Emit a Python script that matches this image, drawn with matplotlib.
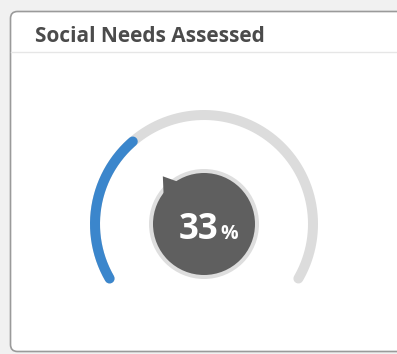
import matplotlib
matplotlib.use("Agg")
import matplotlib.pyplot as plt
import numpy as np
from matplotlib.patches import FancyBboxPatch, Circle, Polygon

# gauge data
title = "Social Needs Assessed"
value = 33          # percent
max_value = 100
start_deg = 210     # gauge sweeps clockwise from lower left
end_deg = -30

W, H = 397, 354
fig = plt.figure(figsize=(W / 100, H / 100), dpi=100)
fig.patch.set_facecolor("#f1f1f1")
ax = fig.add_axes([0, 0, 1, 1])
ax.set_xlim(0, W)
ax.set_ylim(0, H)
ax.axis("off")

# card
card = FancyBboxPatch((10.5, 2.5), 420, 340, boxstyle="round,pad=0,rounding_size=7",
                      facecolor="white", edgecolor="#9a9a9a", linewidth=1.2, zorder=1)
ax.add_patch(card)
ax.plot([11, W], [H - 52, H - 52], color="#e6e6e6", linewidth=1.0, zorder=2)
ax.text(35, H - 42, title, fontsize=15, fontweight="bold", family="Open Sans",
        color="#4b4b4b", va="baseline", ha="left", zorder=3)

# gauge arcs
cx, cy, r = 204, H - 224, 109
lw = 10 * 0.72


def arc(a0, a1, color, z):
    t = np.radians(np.linspace(a0, a1, 200))
    ax.plot(cx + r * np.cos(t), cy + r * np.sin(t), color=color, linewidth=lw,
            solid_capstyle="round", zorder=z)


val_deg = start_deg + (end_deg - start_deg) * value / max_value
arc(start_deg, end_deg, "#dcdcdc", 3)
arc(start_deg, val_deg, "#3b86cc", 4)

# centre bubble with pointer
ccx, ccy = 204, H - 224
ax.add_patch(Circle((ccx, ccy), 55, facecolor="#dedede", edgecolor="none", zorder=5))
ax.add_patch(Circle((ccx, ccy), 51, facecolor="#5f5f5f", edgecolor="none", zorder=6))
a = np.radians(val_deg)
tip = (ccx + 63 * np.cos(a), ccy + 63 * np.sin(a))
b1 = np.radians(val_deg - 14)
b2 = np.radians(val_deg + 22)
ax.add_patch(Polygon([tip,
                      (ccx + 45 * np.cos(b1), ccy + 45 * np.sin(b1)),
                      (ccx + 45 * np.cos(b2), ccy + 45 * np.sin(b2))],
                     closed=True, facecolor="#5f5f5f", edgecolor="none", zorder=6))

ax.text(ccx + 14, H - 239, f"{value}", fontsize=25, fontweight="bold", family="Open Sans",
        color="white", ha="right", va="baseline", zorder=7)
ax.text(ccx + 16, H - 239, "%", fontsize=14, fontweight="bold", family="Open Sans",
        color="white", ha="left", va="baseline", zorder=7)

fig.savefig("out.png", dpi=100, facecolor=fig.get_facecolor())
